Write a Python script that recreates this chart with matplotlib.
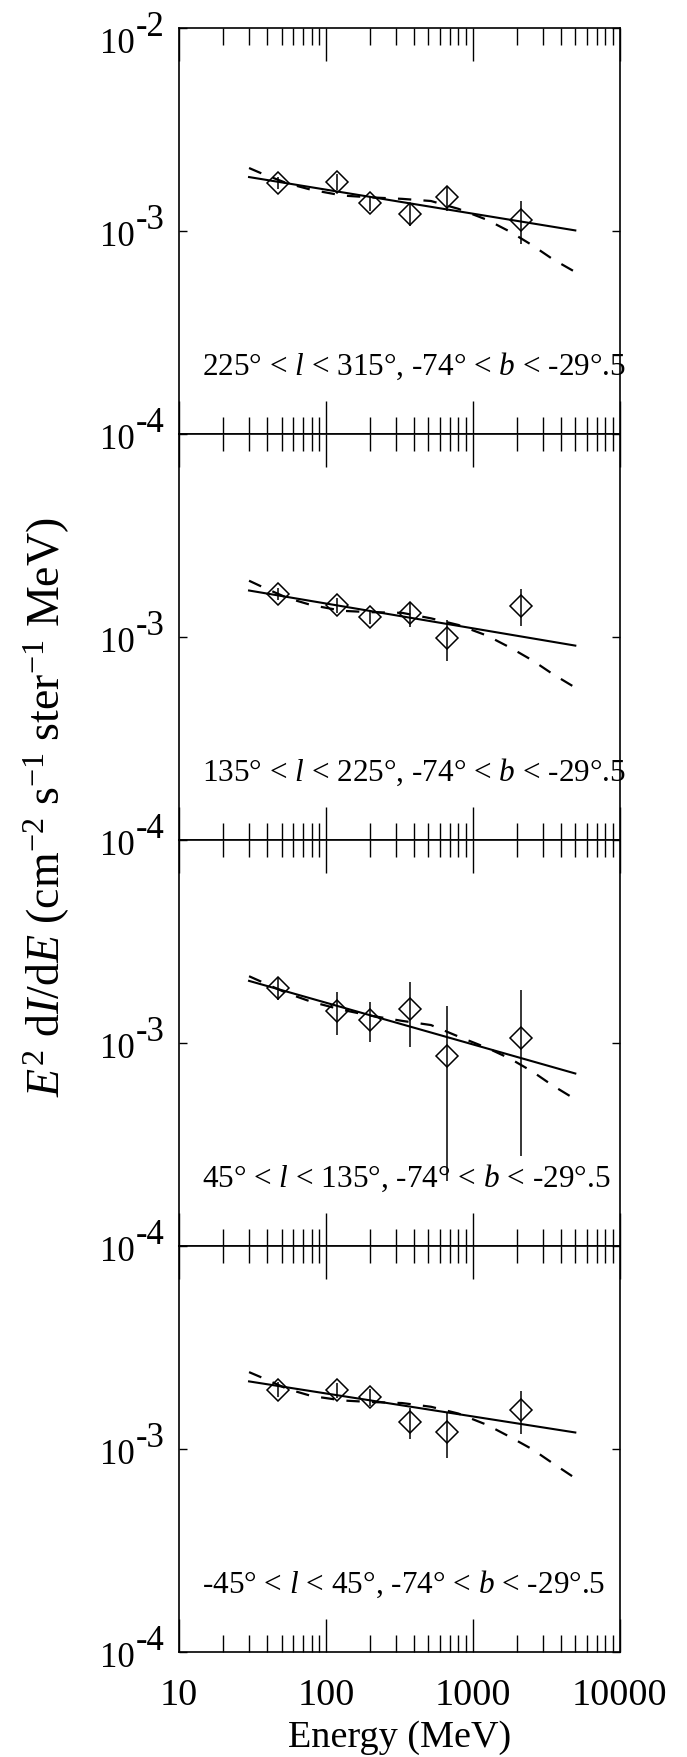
import matplotlib
matplotlib.use("Agg")
import matplotlib.pyplot as plt
import matplotlib.transforms as mtransforms
from matplotlib.ticker import FixedLocator, NullLocator, FuncFormatter

plt.rcParams["font.family"] = ["Liberation Serif", "DejaVu Serif"]
plt.rcParams["mathtext.fontset"] = "custom"
plt.rcParams["mathtext.rm"] = "Liberation Serif"
plt.rcParams["mathtext.it"] = "Liberation Serif:italic"
plt.rcParams["mathtext.bf"] = "Liberation Serif:bold"

# ---- measured spectra (E^2 dI/dE in units of 1e-3) ----
energy = [47, 120, 200, 375, 670, 2140]

regions = [
    "225° < $l$ < 315°, -74° < $b$ < -29°.5",
    "135° < $l$ < 225°, -74° < $b$ < -29°.5",
    "45° < $l$ < 135°, -74° < $b$ < -29°.5",
    "-45° < $l$ < 45°, -74° < $b$ < -29°.5",
]

flux_225_315 = [1.73, 1.75, 1.38, 1.22, 1.47, 1.14]
err_225_315 = [0.12, 0.16, 0.12, 0.16, 0.21, 0.27]
flux_135_225 = [1.64, 1.44, 1.26, 1.31, 0.99, 1.43]
err_135_225 = [0.11, 0.12, 0.10, 0.18, 0.23, 0.29]
flux_45_135 = [1.87, 1.44, 1.30, 1.48, 0.87, 1.06]
err_45_135 = [0.23, 0.34, 0.29, 0.52, 0.66, 0.78]
flux_m45_45 = [1.97, 1.96, 1.81, 1.36, 1.21, 1.56]
err_m45_45 = [0.17, 0.17, 0.17, 0.24, 0.30, 0.37]

# power-law fits (end points)
fit_energy = [30, 5000]
fit_225_315 = [1.85, 1.01]
fit_135_225 = [1.70, 0.91]
fit_45_135 = [2.03, 0.71]
fit_m45_45 = [2.16, 1.21]

# diffuse model curves
model_energy = [30, 37, 55, 80, 130, 200, 330, 520, 800, 1250, 1800, 2550, 3500, 5000]
model_225_315 = [2.05, 1.92, 1.72, 1.60, 1.50, 1.47, 1.445, 1.41, 1.29, 1.14, 0.995, 0.853, 0.73, 0.63]
model_135_225 = [1.90, 1.77, 1.56, 1.44, 1.35, 1.33, 1.32, 1.24, 1.15, 1.02, 0.89, 0.77, 0.66, 0.565]
model_45_135 = [2.14, 2.00, 1.76, 1.60, 1.46, 1.37, 1.29, 1.23, 1.08, 0.95, 0.84, 0.726, 0.62, 0.53]
model_m45_45 = [2.40, 2.25, 1.98, 1.83, 1.74, 1.71, 1.69, 1.62, 1.50, 1.32, 1.15, 1.00, 0.855, 0.72]

x_major = [10, 100, 1000, 10000]

fluxes = [flux_225_315, flux_135_225, flux_45_135, flux_m45_45]
errors = [err_225_315, err_135_225, err_45_135, err_m45_45]
fits = [fit_225_315, fit_135_225, fit_45_135, fit_m45_45]
models = [model_225_315, model_135_225, model_45_135, model_m45_45]

x_minor = [m * d for d in x_major[:-1] for m in range(2, 10)]

scale = 1e-3
W_PX, H_PX = 687, 1758
ax_left, ax_right = 179, 619.5
ax_top, panel_h = 29.3, 406.0

fig = plt.figure(figsize=(W_PX / 100, H_PX / 100), dpi=100)

for i in range(4):
    top = ax_top + panel_h * i
    bottom = top + panel_h
    ax = fig.add_axes([ax_left / W_PX, 1 - bottom / H_PX,
                       (ax_right - ax_left) / W_PX, panel_h / H_PX])
    ax.set_xscale("log")
    ax.set_yscale("log")
    ax.set_xlim(10, 10000)
    ax.set_ylim(1e-4, 1e-2)

    y = [v * scale for v in fluxes[i]]
    dy = [v * scale for v in errors[i]]
    ax.errorbar(energy, y, yerr=dy, fmt="D", ms=11, mfc="none", mec="k",
                mew=1.1, ecolor="k", elinewidth=1.1, capsize=0, zorder=3)
    ax.plot(fit_energy, [v * scale for v in fits[i]], color="k", lw=1.5)
    ax.plot(model_energy, [v * scale for v in models[i]], color="k", lw=1.6,
            linestyle=(0, (6.0, 5.5)))

    for s in ax.spines.values():
        s.set_linewidth(1.2)

    ax.xaxis.set_major_locator(FixedLocator(x_major))
    ax.xaxis.set_minor_locator(FixedLocator(x_minor))
    ax.yaxis.set_major_locator(FixedLocator([1e-4, 1e-3, 1e-2]))
    ax.yaxis.set_minor_locator(NullLocator())
    ax.tick_params(which="both", direction="in", top=True, bottom=True,
                   left=True, right=True, labelleft=False)
    ax.tick_params(axis="x", which="major", length=23.8, width=1.0, pad=18,
                   labelsize=27.5)
    ax.tick_params(axis="x", which="minor", length=12.2, width=1.0)
    ax.tick_params(axis="y", which="major", length=5.8, width=1.0)
    if i == 3:
        ax.xaxis.set_major_formatter(FuncFormatter(lambda v, _: f"{v:g}"))
    else:
        ax.tick_params(axis="x", labelbottom=False)

    # y tick labels: "10" with full-size raised exponent
    trans = mtransforms.blended_transform_factory(ax.transAxes, ax.transData)
    ticks = [(1e-2, "-2"), (1e-3, "-3"), (1e-4, "-4")] if i == 0 else [(1e-3, "-3"), (1e-4, "-4")]
    for val, exp in ticks:
        shift = -10 if val == 1e-2 else 0
        ax.text(0, val, "10", ha="right", va="baseline", fontsize=25,
                transform=mtransforms.offset_copy(trans, x=-44, y=-13.5 + shift, units="dots"))
        ax.text(0, val, exp, ha="left", va="baseline", fontsize=25,
                transform=mtransforms.offset_copy(trans, x=-43, y=3.5 + shift, units="dots"))

    ax.text(0.052, 0.15, regions[i], transform=ax.transAxes, fontsize=22.5,
            ha="left", va="baseline")

fig.text((ax_left + ax_right) / 2 / W_PX, 11.3 / H_PX, "Energy (MeV)",
         ha="center", va="baseline", fontsize=27.5)
fig.text(47 / W_PX, 1 - 807 / H_PX,
         r"$E^2$ d$I$/d$E$ (cm$^{-2}$ s$^{-1}$ ster$^{-1}$ MeV)",
         rotation=90, ha="center", va="center", fontsize=33)

fig.savefig("out.png", dpi=100)
